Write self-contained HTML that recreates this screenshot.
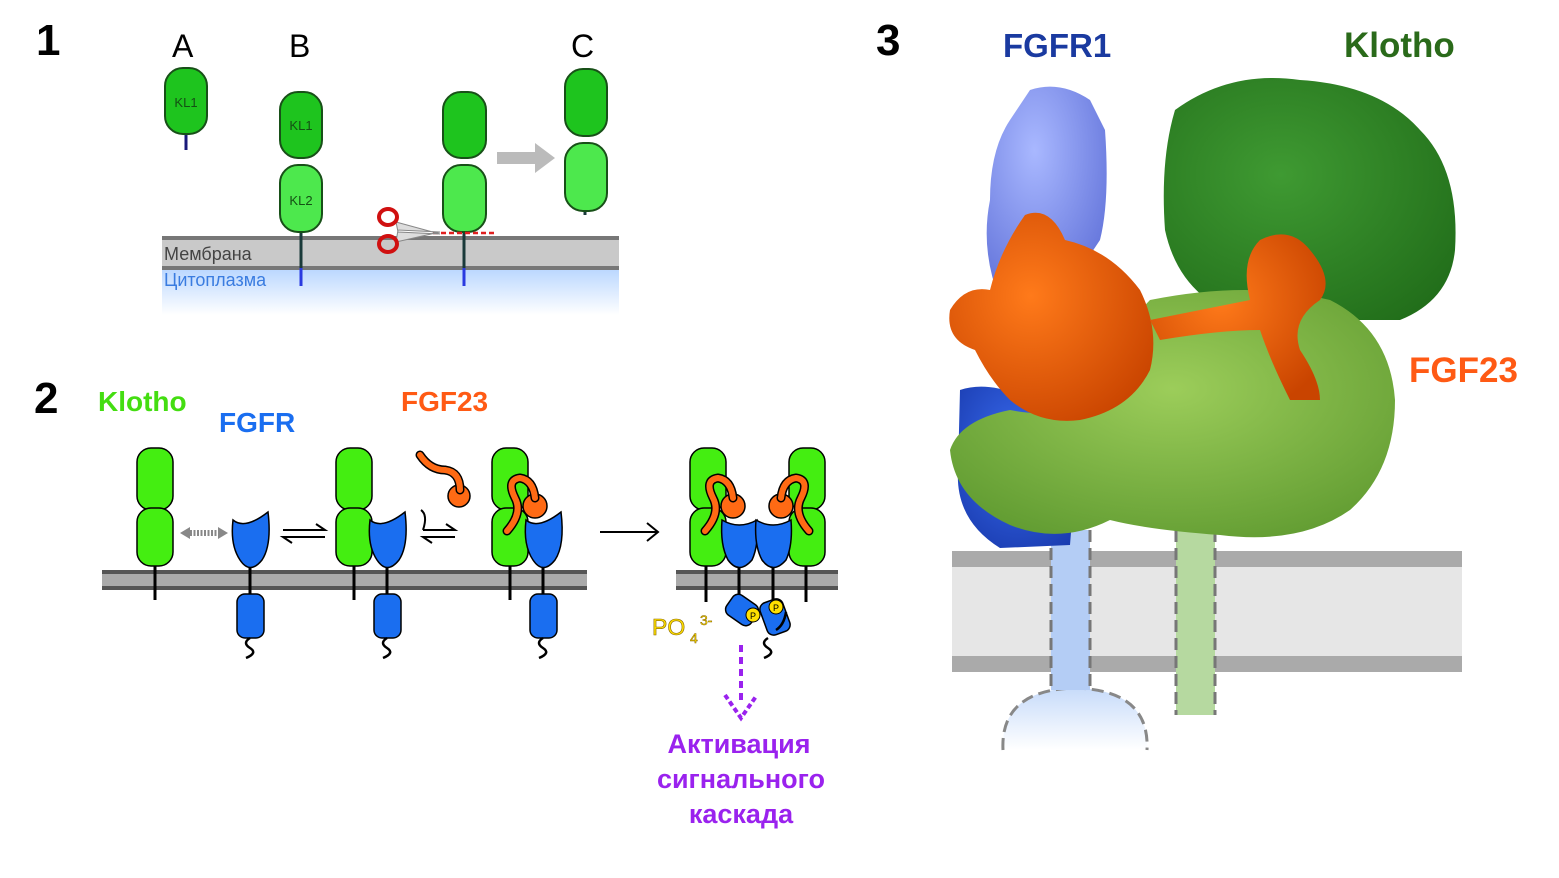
<!DOCTYPE html>
<html><head><meta charset="utf-8"><style>
body{margin:0;background:#fff}
svg{display:block}
text{font-family:"Liberation Sans",sans-serif}
</style></head><body>
<svg width="1559" height="878" viewBox="0 0 1559 878" xmlns="http://www.w3.org/2000/svg">
<defs>
<linearGradient id="cyto" x1="0" y1="0" x2="0" y2="1"><stop offset="0" stop-color="#bcd8ff"/><stop offset="1" stop-color="#fff"/></linearGradient>
<linearGradient id="dome" x1="0" y1="0" x2="0" y2="1"><stop offset="0" stop-color="#c7dbfa"/><stop offset="1" stop-color="#fff"/></linearGradient>
<radialGradient id="gO" cx="0.4" cy="0.4" r="0.7"><stop offset="0" stop-color="#ff7a1a"/><stop offset="1" stop-color="#c94400"/></radialGradient>
<radialGradient id="gLB" cx="0.4" cy="0.3" r="0.8"><stop offset="0" stop-color="#a9b8ff"/><stop offset="1" stop-color="#5e6fd8"/></radialGradient>
<radialGradient id="gDG" cx="0.4" cy="0.4" r="0.8"><stop offset="0" stop-color="#3f9a32"/><stop offset="1" stop-color="#1f6a18"/></radialGradient>
<radialGradient id="gLG" cx="0.5" cy="0.4" r="0.7"><stop offset="0" stop-color="#9ccd5a"/><stop offset="1" stop-color="#5f9a30"/></radialGradient>
<radialGradient id="gB" cx="0.5" cy="0.4" r="0.7"><stop offset="0" stop-color="#3a6cf0"/><stop offset="1" stop-color="#1a3cb0"/></radialGradient>
</defs>

<!-- PANEL 1 -->
<text x="36" y="55" font-size="44" font-weight="bold">1</text>
<text x="172" y="57" font-size="32">A</text>
<text x="289" y="57" font-size="32">B</text>
<text x="571" y="57" font-size="32">C</text>
<rect x="162" y="270" width="457" height="45" fill="url(#cyto)"/>
<rect x="162" y="238" width="457" height="31" fill="#c9c9c9"/>
<rect x="162" y="236" width="457" height="4" fill="#777"/>
<rect x="162" y="266" width="457" height="4" fill="#777"/>
<text x="164" y="260" font-size="18" fill="#444">Мембрана</text>
<text x="164" y="286" font-size="18" fill="#3a7ce0">Цитоплазма</text>
<!-- A -->
<line x1="186" y1="130" x2="186" y2="150" stroke="#1a1a7a" stroke-width="3"/>
<rect x="165" y="68" width="42" height="66" rx="18" fill="#1ec41e" stroke="#185018" stroke-width="2"/>
<text x="186" y="107" font-size="13" text-anchor="middle" fill="#145014">KL1</text>
<!-- B -->
<line x1="301" y1="230" x2="301" y2="268" stroke="#1a3a3a" stroke-width="3"/>
<line x1="301" y1="268" x2="301" y2="286" stroke="#2a3ae0" stroke-width="3"/>
<rect x="280" y="165" width="42" height="67" rx="18" fill="#4de84d" stroke="#185018" stroke-width="2"/>
<rect x="280" y="92" width="42" height="66" rx="18" fill="#1ec41e" stroke="#185018" stroke-width="2"/>
<text x="301" y="130" font-size="13" text-anchor="middle" fill="#145014">KL1</text>
<text x="301" y="205" font-size="13" text-anchor="middle" fill="#145014">KL2</text>
<!-- cleaved -->
<line x1="464" y1="230" x2="464" y2="268" stroke="#1a3a3a" stroke-width="3"/>
<line x1="464" y1="268" x2="464" y2="286" stroke="#2a3ae0" stroke-width="3"/>
<rect x="443" y="165" width="43" height="67" rx="18" fill="#4de84d" stroke="#185018" stroke-width="2"/>
<rect x="443" y="92" width="43" height="66" rx="18" fill="#1ec41e" stroke="#185018" stroke-width="2"/>
<line x1="433" y1="233" x2="496" y2="233" stroke="#e02020" stroke-width="2.5" stroke-dasharray="5,3"/>
<!-- scissors -->
<path d="M396 222 L440 234 L398 232Z M396 242 L440 232 L398 230Z" fill="#ddd" stroke="#888"/>
<g stroke="#d01010" stroke-width="4" fill="none">
<ellipse cx="388" cy="217" rx="9" ry="8"/>
<ellipse cx="388" cy="244" rx="9" ry="8"/>
</g>
<!-- grey arrow -->
<path d="M497 152 L535 152 L535 143 L555 158 L535 173 L535 164 L497 164Z" fill="#bbb"/>
<!-- C -->
<line x1="585" y1="205" x2="585" y2="215" stroke="#1a3a3a" stroke-width="3"/>
<rect x="565" y="143" width="42" height="68" rx="18" fill="#4de84d" stroke="#185018" stroke-width="2"/>
<rect x="565" y="69" width="42" height="67" rx="18" fill="#1ec41e" stroke="#185018" stroke-width="2"/>

<!-- PANEL 2 -->
<text x="34" y="413" font-size="44" font-weight="bold">2</text>
<text x="98" y="411" font-size="28" font-weight="bold" fill="#44dd11">Klotho</text>
<text x="219" y="432" font-size="28" font-weight="bold" fill="#1a6ef0">FGFR</text>
<text x="401" y="411" font-size="28" font-weight="bold" fill="#ff5a14">FGF23</text>
<g>
<rect x="102" y="570" width="485" height="20" fill="#aaa"/>
<rect x="102" y="570" width="485" height="4" fill="#555"/>
<rect x="102" y="586" width="485" height="4" fill="#555"/>
<rect x="676" y="570" width="162" height="20" fill="#aaa"/>
<rect x="676" y="570" width="162" height="4" fill="#555"/>
<rect x="676" y="586" width="162" height="4" fill="#555"/>
</g>
<g stroke="#000" stroke-width="3">
<line x1="155" y1="560" x2="155" y2="600"/>
<line x1="250" y1="560" x2="250" y2="598"/>
<line x1="354" y1="560" x2="354" y2="600"/>
<line x1="387" y1="560" x2="387" y2="598"/>
<line x1="510" y1="560" x2="510" y2="600"/>
<line x1="543" y1="560" x2="543" y2="598"/>
<line x1="706" y1="560" x2="706" y2="602"/>
<line x1="739" y1="560" x2="739" y2="600"/>
<line x1="773" y1="560" x2="773" y2="600"/>
<line x1="806" y1="560" x2="806" y2="602"/>
</g>
<g fill="#44ee11" stroke="#000" stroke-width="1.5">
<rect x="137" y="448" width="36" height="62" rx="14"/><rect x="137" y="508" width="36" height="58" rx="14"/>
<rect x="336" y="448" width="36" height="62" rx="14"/><rect x="336" y="508" width="36" height="58" rx="14"/>
<rect x="492" y="448" width="36" height="62" rx="14"/><rect x="492" y="508" width="36" height="58" rx="14"/>
<rect x="690" y="448" width="36" height="62" rx="14"/><rect x="690" y="508" width="36" height="58" rx="14"/>
<rect x="789" y="448" width="36" height="62" rx="14"/><rect x="789" y="508" width="36" height="58" rx="14"/>
</g>
<g fill="#1a6ef0" stroke="#000" stroke-width="1.5">
<path d="M233 520 Q245 530 268 512 Q272 545 262 560 Q250 575 240 560 Q230 545 233 520Z"/>
<path d="M370 520 Q382 530 405 512 Q409 545 399 560 Q387 575 377 560 Q367 545 370 520Z"/>
<path d="M526 520 Q538 530 561 512 Q565 545 555 560 Q543 575 533 560 Q523 545 526 520Z"/>
<path d="M722 520 Q739 530 757 520 Q759 545 752 560 Q739 575 728 560 Q720 545 722 520Z"/>
<path d="M756 520 Q773 530 791 520 Q793 545 786 560 Q773 575 762 560 Q754 545 756 520Z"/>
<rect x="237" y="594" width="27" height="44" rx="8"/>
<rect x="374" y="594" width="27" height="44" rx="8"/>
<rect x="530" y="594" width="27" height="44" rx="8"/>
<rect x="727" y="598" width="30" height="24" rx="7" transform="rotate(35 742 610)"/>
<rect x="763" y="600" width="24" height="34" rx="7" transform="rotate(-20 775 617)"/>
</g>
<g fill="none" stroke="#000" stroke-width="2.5">
<path d="M250 638 q-8 5 0 10 q8 5 -4 10"/>
<path d="M387 638 q-8 5 0 10 q8 5 -4 10"/>
<path d="M543 638 q-8 5 0 10 q8 5 -4 10"/>
<path d="M768 638 q-8 5 0 10 q8 5 -4 10"/>
<path d="M776 630 q8 -5 10 -18"/>
</g>
<circle cx="753" cy="615" r="7" fill="#ffe000" stroke="#000"/><text x="753" y="619" font-size="9" text-anchor="middle">P</text>
<circle cx="776" cy="607" r="7" fill="#ffe000" stroke="#000"/><text x="776" y="611" font-size="9" text-anchor="middle">P</text>
<text x="652" y="635" font-size="23" fill="#ffe000" stroke="#886600" stroke-width="0.6">PO</text>
<text x="690" y="643" font-size="14" fill="#ffe000" stroke="#886600" stroke-width="0.5">4</text>
<text x="700" y="625" font-size="14" fill="#ffe000" stroke="#886600" stroke-width="0.5">3-</text>
<!-- orange FGF23 -->
<g stroke="#000" stroke-width="1.5" fill="#ff6a14">
<circle cx="459" cy="496" r="11"/>
<circle cx="535" cy="506" r="12"/>
<circle cx="733" cy="506" r="12"/>
<circle cx="781" cy="506" r="12"/>
</g>
<g fill="none" stroke-linecap="round">
<path d="M420 455 q10 15 25 15 q15 2 15 20" stroke="#000" stroke-width="9"/>
<path d="M420 455 q10 15 25 15 q15 2 15 20" stroke="#ff6a14" stroke-width="6"/>
<path d="M535 498 q-2 -18 -15 -20 q-14 2 -5 20 q8 15 -8 33" stroke="#000" stroke-width="9"/>
<path d="M535 498 q-2 -18 -15 -20 q-14 2 -5 20 q8 15 -8 33" stroke="#ff6a14" stroke-width="6"/>
<path d="M733 498 q-2 -18 -15 -20 q-14 2 -5 20 q8 15 -8 33" stroke="#000" stroke-width="9"/>
<path d="M733 498 q-2 -18 -15 -20 q-14 2 -5 20 q8 15 -8 33" stroke="#ff6a14" stroke-width="6"/>
<path d="M781 498 q2 -18 15 -20 q14 2 5 20 q-8 15 8 33" stroke="#000" stroke-width="9"/>
<path d="M781 498 q2 -18 15 -20 q14 2 5 20 q-8 15 8 33" stroke="#ff6a14" stroke-width="6"/>
</g>
<!-- arrows -->
<path d="M180 533 L190 527 V539Z M228 533 L218 527 V539Z" fill="#888"/>
<line x1="190" y1="533" x2="218" y2="533" stroke="#888" stroke-width="6" stroke-dasharray="2,1.5"/>
<g stroke="#000" stroke-width="2" fill="none">
<path d="M283 530 H325 L316 524"/><path d="M325 537 H283 L292 543"/>
<path d="M423 530 q5 -15 -2 -20"/>
<path d="M423 530 H455 L446 524"/><path d="M455 537 H423 L432 543"/>
<path d="M600 532 H657 M647 523 L658 532 L647 541"/>
</g>
<line x1="741" y1="645" x2="741" y2="705" stroke="#9a22ee" stroke-width="4" stroke-dasharray="7,5"/>
<path d="M725 695 L741 718 L757 695" stroke="#9a22ee" stroke-width="4" fill="none" stroke-dasharray="5,3"/>
<g font-size="27" font-weight="bold" fill="#9a22ee" text-anchor="middle">
<text x="739" y="753">Активация</text>
<text x="741" y="788">сигнального</text>
<text x="741" y="823">каскада</text>
</g>

<!-- PANEL 3 -->
<text x="876" y="55" font-size="44" font-weight="bold">3</text>
<text x="1003" y="57" font-size="33" font-weight="bold" fill="#1a3aa0">FGFR1</text>
<text x="1344" y="57" font-size="35" font-weight="bold" fill="#2a6a1a">Klotho</text>
<text x="1409" y="382" font-size="35" font-weight="bold" fill="#ff5a14">FGF23</text>
<!-- membrane -->
<rect x="952" y="551" width="510" height="121" fill="#e6e6e6"/>
<rect x="952" y="551" width="510" height="16" fill="#aaa"/>
<rect x="952" y="656" width="510" height="16" fill="#aaa"/>
<path d="M1003 750 Q1000 690 1075 688 Q1150 690 1147 750Z" fill="url(#dome)"/>
<path d="M1003 750 Q1000 690 1075 688 Q1150 690 1147 750" fill="none" stroke="#888" stroke-width="3" stroke-dasharray="12,6"/>
<rect x="1051" y="530" width="39" height="160" fill="#b4cdf5"/>
<path d="M1051 530 V690 M1090 530 V690" stroke="#777" stroke-width="3" stroke-dasharray="12,6"/>
<rect x="1176" y="530" width="39" height="185" fill="#b6d9a0"/>
<path d="M1176 530 V715 M1215 530 V715" stroke="#777" stroke-width="3" stroke-dasharray="12,6"/>
<!-- blobs -->
<path d="M1030 90 Q1060 80 1090 100 L1105 130 Q1110 200 1100 240 L1060 300 L1000 300 Q980 250 990 200 Q990 150 1010 120Z" fill="url(#gLB)"/>
<path d="M1175 110 Q1230 70 1300 80 Q1380 85 1420 130 Q1460 170 1455 250 Q1450 300 1400 320 L1250 320 Q1180 300 1165 230 Q1160 160 1175 110Z" fill="url(#gDG)"/>
<path d="M960 390 Q990 380 1030 400 L1080 420 L1070 545 L1000 548 Q955 520 958 470Z" fill="url(#gB)"/>
<path d="M1150 300 Q1250 280 1330 300 Q1390 330 1395 400 Q1395 470 1350 510 Q1300 545 1220 535 Q1150 530 1110 520 Q1060 545 1010 525 Q955 500 950 450 Q960 420 1010 410 Q1060 420 1100 400 Q1120 330 1150 300Z" fill="url(#gLG)"/>
<path d="M1025 215 Q1050 205 1065 240 Q1110 250 1140 290 Q1160 330 1150 370 Q1130 410 1080 420 Q1040 425 1010 400 Q990 380 975 350 Q945 340 950 310 Q965 285 990 290 Q1000 250 1025 215Z" fill="url(#gO)"/>
<path d="M1150 320 Q1200 310 1250 300 Q1240 260 1260 240 Q1290 225 1310 250 Q1335 280 1320 300 Q1290 320 1300 350 Q1320 380 1320 400 L1290 400 Q1270 360 1260 330 Q1220 330 1160 340Z" fill="url(#gO)"/>
</svg>
</body></html>
